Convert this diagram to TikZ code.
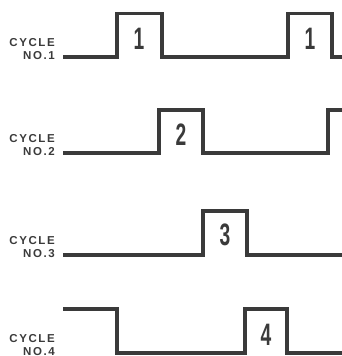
\documentclass[tikz,border=0pt]{standalone}
\usepackage{fontspec}
\setmainfont{Liberation Sans}
\newfontfamily\capfont[LetterSpace=14]{Liberation Sans}
\definecolor{ink}{HTML}{3A3A3A}
\tikzset{
  wave/.style={draw=ink, line width=3.8pt, line join=miter, line cap=butt},
  caplabel/.style={anchor=base east, inner sep=0pt, text=ink, font=\capfont\bfseries\fontsize{11.5}{12}\selectfont},
  digit/.style={inner sep=0pt, text=ink, font=\bfseries\fontsize{31}{31}\selectfont, xscale=0.62, transform shape}
}
\begin{document}
\begin{tikzpicture}[x=1pt,y=-1pt]
\useasboundingbox (0,0) rectangle (342,356);
% row 1
\draw[wave] (63,57) -- (117,57) -- (117,13.5) -- (162,13.5) -- (162,57) -- (288,57) -- (288,13.5) -- (332,13.5) -- (332,57) -- (343,57);
\node[caplabel] (c1a) at (55,46.5) {CYCLE};
\node[caplabel] (c1b) at (55,59) {NO.1};
\node[digit] (d1a) at (139,39) {1};
\node[digit] (d1b) at (310,39) {1};
% row 2
\draw[wave] (63,153) -- (159,153) -- (159,110) -- (203,110) -- (203,153) -- (328,153) -- (328,110) -- (343,110);
\node[caplabel] (c2a) at (55,142.5) {CYCLE};
\node[caplabel] (c2b) at (55,155) {NO.2};
\node[digit] (d2) at (181,134.5) {2};
% row 3
\draw[wave] (63,255) -- (203,255) -- (203,211) -- (247,211) -- (247,255) -- (343,255);
\node[caplabel] (c3a) at (55,244.5) {CYCLE};
\node[caplabel] (c3b) at (55,257) {NO.3};
\node[digit] (d3) at (225,234.5) {3};
% row 4
\draw[wave] (63,309) -- (117,309) -- (117,353) -- (245,353) -- (245,309) -- (287,309) -- (287,353) -- (343,353);
\node[caplabel] (c4a) at (55,342.5) {CYCLE};
\node[caplabel] (c4b) at (55,355) {NO.4};
\node[digit] (d4) at (266,335) {4};
\end{tikzpicture}
\end{document}
